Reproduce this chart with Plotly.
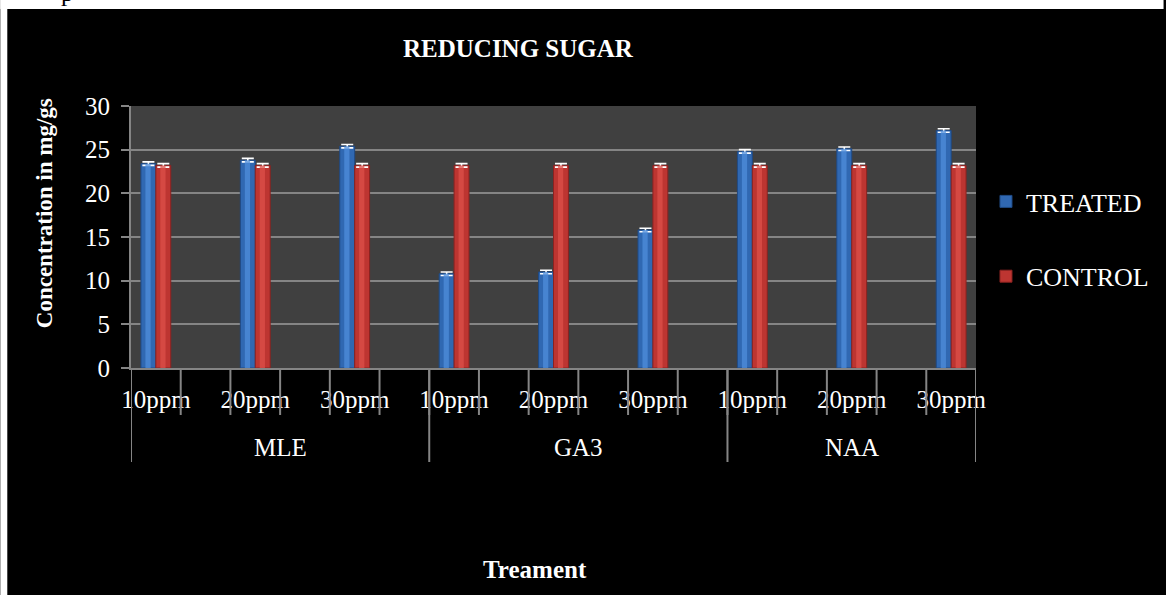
import plotly.graph_objects as go

# ---- data ----
groups = ["MLE", "GA3", "NAA"]
doses = ["10ppm", "20ppm", "30ppm"]
treated = [23.4, 23.8, 25.4, 10.8, 11.0, 15.8, 24.8, 25.1, 27.2]
control = [23.2, 23.2, 23.2, 23.2, 23.2, 23.2, 23.2, 23.2, 23.2]
treated_err = [0.2, 0.2, 0.2, 0.2, 0.2, 0.2, 0.2, 0.2, 0.2]
control_err = [0.2, 0.2, 0.2, 0.2, 0.2, 0.2, 0.2, 0.2, 0.2]
y_ticks = [0, 5, 10, 15, 20, 25, 30]

# ---- geometry ----
W, H = 1166, 595
L, R, T, B = 131, 978, 106, 368          # plot area in pixels


def px(x):
    return (x - L) / (R - L)


def py(y):
    return (B - y) / (B - T)


FONT = "Liberation Serif"
GRID = "#858585"

# each category is followed by an empty slot on the axis
n_cat = len(treated)
slots = [2 * i for i in range(n_cat)]
labels = [d for g in groups for d in doses]
n_slots = 2 * n_cat - 1
per_group = 2 * len(doses)
group_edges = [-0.5] + [per_group * (k + 1) - 0.5 for k in range(len(groups) - 1)] + [n_slots - 0.5]
group_centers = [(group_edges[k] + group_edges[k + 1]) / 2 for k in range(len(groups))]
boundaries = [i - 0.5 for i in range(n_slots + 1)]

BW = 0.3  # bar width in slot units

fig = go.Figure()


def add_series(name, values, errs, offset, base, edge, light, group):
    fig.add_trace(go.Bar(
        x=slots, y=values, name=name, offset=offset, width=BW,
        marker=dict(color=base, line=dict(color=edge, width=1)),
        error_y=dict(type="data", array=errs, color="white", thickness=1.6, width=6),
        legendgroup=group, showlegend=True,
    ))
    # lighter stripe to give the bars a rounded look
    fig.add_trace(go.Bar(
        x=slots, y=values, offset=offset + BW * 0.3, width=BW * 0.35,
        marker=dict(color=light, line=dict(width=0)), opacity=0.75,
        hoverinfo="skip", showlegend=False, legendgroup=group,
    ))


add_series("TREATED", treated, treated_err, -BW, "#3068b2", "#1f4a85", "#4f8edc", "t")
add_series("CONTROL", control, control_err, 0.0, "#bd3531", "#8a2220", "#de504a", "c")

shapes = [
    # white page strips around the black chart frame
    dict(type="rect", xref="paper", yref="paper", x0=px(0), x1=px(W), y0=py(9), y1=py(0),
         fillcolor="white", line=dict(width=0), layer="above"),
    dict(type="rect", xref="paper", yref="paper", x0=px(0), x1=px(7), y0=py(H), y1=py(0),
         fillcolor="white", line=dict(width=0), layer="above"),
]
# category tick marks between every slot
for b in boundaries:
    shapes.append(dict(type="line", xref="x", yref="paper", x0=b, x1=b, y0=0, y1=py(415),
                       line=dict(color=GRID, width=2)))
# group dividers below the axis
for e in group_edges:
    shapes.append(dict(type="line", xref="x", yref="paper", x0=e, x1=e, y0=0, y1=py(462),
                       line=dict(color=GRID, width=2)))

annotations = [
    dict(text="<b>REDUCING SUGAR</b>", xref="paper", yref="paper", x=px(402), y=py(49),
         xanchor="left", yanchor="middle", showarrow=False,
         font=dict(family=FONT, size=25, color="white")),
    dict(text="<b>Concentration in mg/gs</b>", xref="paper", yref="paper", x=px(44), y=py(213),
         xanchor="center", yanchor="middle", textangle=-90, showarrow=False,
         font=dict(family=FONT, size=23, color="white")),
    dict(text="<b>Treament</b>", xref="paper", yref="paper", x=px(482), y=py(569),
         xanchor="left", yanchor="middle", showarrow=False,
         font=dict(family=FONT, size=25, color="white")),
    dict(text="p", xref="paper", yref="paper", x=px(67), y=py(-8),
         xanchor="center", yanchor="middle", showarrow=False,
         font=dict(family=FONT, size=25, color="black")),
]
for name, c in zip(groups, group_centers):
    annotations.append(dict(text=name, xref="x", yref="paper", x=c, y=py(447),
                            xanchor="center", yanchor="middle", showarrow=False,
                            font=dict(family=FONT, size=25, color="white")))

fig.update_layout(
    width=W, height=H, autosize=False,
    margin=dict(l=L, r=W - R, t=T, b=H - B, pad=0),
    paper_bgcolor="black", plot_bgcolor="#404040",
    barmode="overlay",
    font=dict(family=FONT, color="white", size=25),
    xaxis=dict(range=[-0.5, n_slots - 0.5], tickvals=slots, ticktext=labels, ticks="",
               showline=True, linecolor=GRID, linewidth=2, showgrid=False, zeroline=False,
               tickfont=dict(family=FONT, size=25, color="white"), ticklabelstandoff=8),
    yaxis=dict(range=[0, 30], tickvals=y_ticks, ticks="outside", ticklen=8, tickwidth=2,
               tickcolor=GRID, showline=True, linecolor=GRID, linewidth=2,
               showgrid=True, gridcolor=GRID, gridwidth=2, zeroline=False,
               tickfont=dict(family=FONT, size=25, color="white"), ticklabelstandoff=6),
    legend=dict(x=px(988), y=py(178), xanchor="left", yanchor="top",
                bgcolor="rgba(0,0,0,0)", tracegroupgap=38,
                font=dict(family=FONT, size=26, color="white")),
    shapes=shapes, annotations=annotations,
)

fig.write_html("out.html")
